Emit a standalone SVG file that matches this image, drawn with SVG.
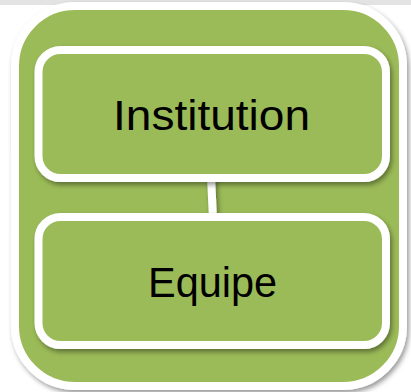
<svg xmlns="http://www.w3.org/2000/svg" width="411" height="392" viewBox="0 0 411 392">
  <defs>
    <filter id="sh" x="-10%" y="-10%" width="125%" height="130%">
      <feDropShadow dx="2" dy="3" stdDeviation="2.5" flood-color="#000" flood-opacity="0.4"/>
    </filter>
    <filter id="shl" filterUnits="userSpaceOnUse" x="190" y="170" width="50" height="60">
      <feDropShadow dx="2" dy="3" stdDeviation="2.5" flood-color="#000" flood-opacity="0.4"/>
    </filter>
    <style>
      .box { fill: #9bbb59; stroke: #ffffff; stroke-width: 8; }
      .lbl { font-family: "Liberation Sans", Arial, sans-serif; font-size: 42px; fill: #000; text-anchor: middle; }
      .conn { stroke: #ffffff; stroke-width: 8; fill: none; }
    </style>
  </defs>
  <rect x="0" y="0" width="411" height="392" fill="#ffffff"/>
  <rect x="0" y="0" width="411" height="5" fill="#e3e3e3"/>
  <g id="container">
    <rect class="box" x="15" y="6" width="388" height="380" rx="60" ry="60" filter="url(#sh)"/>
  </g>
  <g id="connectors">
    <line class="conn" x1="211" y1="176" x2="213" y2="219" filter="url(#shl)"/>
  </g>
  <g id="institution">
    <rect class="box" x="38.5" y="50" width="347.5" height="128" rx="22" ry="22" filter="url(#sh)"/>
    <text class="lbl" x="211.5" y="130" textLength="197" lengthAdjust="spacingAndGlyphs">Institution</text>
  </g>
  <g id="equipe">
    <rect class="box" x="38.5" y="217" width="347.5" height="128" rx="22" ry="22" filter="url(#sh)"/>
    <text class="lbl" x="212.5" y="297" textLength="129" lengthAdjust="spacingAndGlyphs">Equipe</text>
  </g>
</svg>
